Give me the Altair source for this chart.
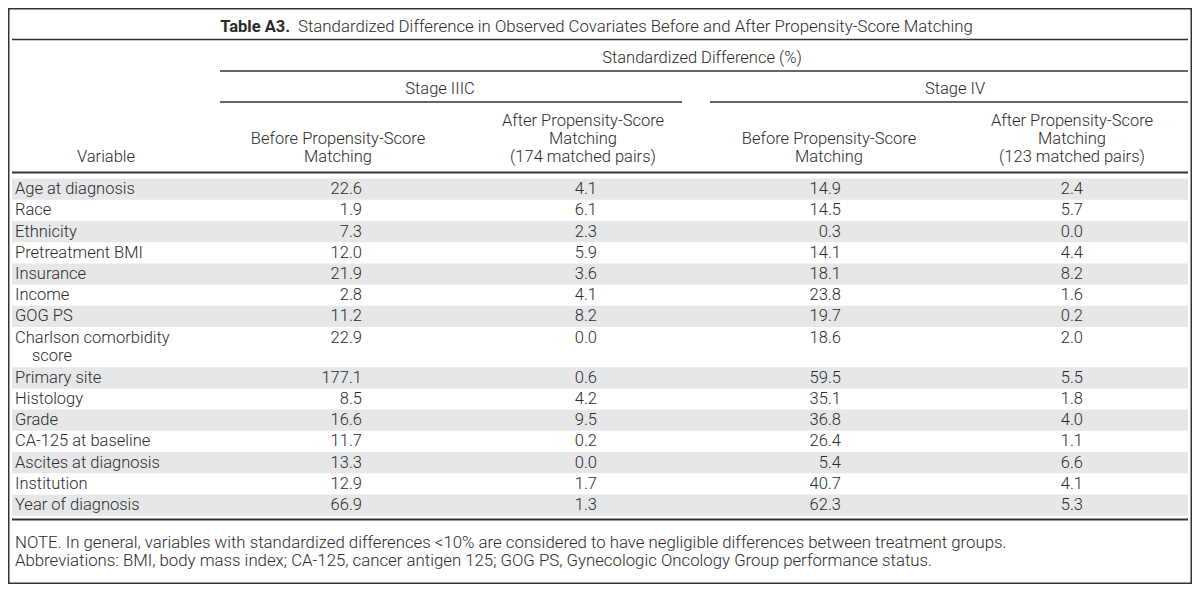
import altair as alt
import pandas as pd

# ---------------- data ----------------
variables = ["Age at diagnosis", "Race", "Ethnicity", "Pretreatment BMI", "Insurance",
             "Income", "GOG PS", "Charlson comorbidity|score", "Primary site", "Histology",
             "Grade", "CA-125 at baseline", "Ascites at diagnosis", "Institution",
             "Year of diagnosis"]
iiic_before = [22.6, 1.9, 7.3, 12.0, 21.9, 2.8, 11.2, 22.9, 177.1, 8.5, 16.6, 11.7, 13.3, 12.9, 66.9]
iiic_after = [4.1, 6.1, 2.3, 5.9, 3.6, 4.1, 8.2, 0.0, 0.6, 4.2, 9.5, 0.2, 0.0, 1.7, 1.3]
iv_before = [14.9, 14.5, 0.3, 14.1, 18.1, 23.8, 19.7, 18.6, 59.5, 35.1, 36.8, 26.4, 5.4, 40.7, 62.3]
iv_after = [2.4, 5.7, 0.0, 4.4, 8.2, 1.6, 0.2, 2.0, 5.5, 1.8, 4.0, 1.1, 6.6, 4.1, 5.3]

title_bold = "Table A3."
title_text = "Standardized Difference in Observed Covariates Before and After Propensity-Score Matching"
span_top = "Standardized Difference (%)"
stages = ["Stage IIIC", "Stage IV"]
col_headers = [["Variable"],
               ["Before Propensity-Score", "Matching"],
               ["After Propensity-Score", "Matching", "(174 matched pairs)"],
               ["Before Propensity-Score", "Matching"],
               ["After Propensity-Score", "Matching", "(123 matched pairs)"]]
notes = ["NOTE. In general, variables with standardized differences <10% are considered to have negligible differences between treatment groups.",
         "Abbreviations: BMI, body mass index; CA-125, cancer antigen 125; GOG PS, Gynecologic Oncology Group performance status."]

# ---------------- layout (page pixel coordinates) ----------------
W, H = 1184, 576
OFF = 8
FONT = "Roboto"
TXT = "#2b2b2b"
FS = 16.5
LEFT, RIGHT = 12, 1188
TXT_LEFT = 15
col_right = [362, 597, 841, 1083]
head_center = [106, 338, 583, 829, 1072]
row_top = 178.6
row_h = 21.2
line_gap = 18

xs = alt.Scale(domain=[OFF, OFF + W])
ys = alt.Scale(domain=[OFF + H, OFF])

bands, left_txt, right_txt, center_txt = [], [], [], []
y = row_top
for i, v in enumerate(variables):
    parts = v.split("|")
    h = row_h + line_gap * (len(parts) - 1) + (1 if len(parts) > 1 else 0)
    if i % 2 == 0:
        bands.append({"x": LEFT, "x2": RIGHT, "y": y, "y2": y + h})
    cy = y + row_h / 2
    for k, p in enumerate(parts):
        left_txt.append({"x": TXT_LEFT + (17 if k else 0), "y": cy + k * line_gap, "t": p, "s": FS})
    for c, vals in enumerate([iiic_before, iiic_after, iv_before, iv_after]):
        right_txt.append({"x": col_right[c], "y": cy, "t": f"{vals[i]:.1f}", "s": FS})
    y += h
table_bottom = y

# headers
hdr_base = 157
for c, lines in enumerate(col_headers):
    n = len(lines)
    for k, ln in enumerate(lines):
        center_txt.append({"x": head_center[c], "y": hdr_base - (n - 1 - k) * line_gap, "t": ln, "s": FS})
center_txt.append({"x": 702, "y": 58, "t": span_top, "s": FS})
center_txt.append({"x": 440, "y": 89, "t": stages[0], "s": FS})
center_txt.append({"x": 955, "y": 89, "t": stages[1], "s": FS})

# notes
for k, n in enumerate(notes):
    left_txt.append({"x": TXT_LEFT, "y": 543 + k * 18, "t": n, "s": 16.8})

rules = [
    {"x": LEFT, "x2": RIGHT, "y": 39.5, "w": 1.6},
    {"x": 220, "x2": RIGHT, "y": 71, "w": 1.4},
    {"x": 220, "x2": 682, "y": 102, "w": 1.4},
    {"x": 710, "x2": RIGHT, "y": 102, "w": 1.4},
    {"x": LEFT, "x2": RIGHT, "y": 172.5, "w": 2},
    {"x": LEFT, "x2": RIGHT, "y": table_bottom + 4, "w": 2},
]

band_layer = alt.Chart(pd.DataFrame(bands)).mark_rect(color="#e6e7e8").encode(
    x=alt.X("x:Q", scale=xs, axis=None), x2="x2:Q",
    y=alt.Y("y:Q", scale=ys, axis=None), y2="y2:Q")

rule_layer = alt.Chart(pd.DataFrame(rules)).mark_rule(color="#333333").encode(
    x=alt.X("x:Q", scale=xs, axis=None), x2="x2:Q",
    y=alt.Y("y:Q", scale=ys, axis=None),
    strokeWidth=alt.StrokeWidth("w:Q", scale=None, legend=None))

def text_layer(rows, align, weight=300):
    return alt.Chart(pd.DataFrame(rows)).mark_text(
        align=align, baseline="middle", font=FONT, fontWeight=weight, color=TXT).encode(
        x=alt.X("x:Q", scale=xs, axis=None),
        y=alt.Y("y:Q", scale=ys, axis=None),
        text="t:N",
        size=alt.Size("s:Q", scale=None, legend=None))

title_b = text_layer([{"x": 290, "y": 27, "t": title_bold, "s": 16.5}], "right", 700)
title_r = text_layer([{"x": 298, "y": 27, "t": title_text, "s": 16.8}], "left", 300)

chart = alt.layer(
    band_layer, rule_layer,
    text_layer(left_txt, "left"), text_layer(right_txt, "right"),
    text_layer(center_txt, "center"), title_b, title_r,
).properties(
    width=W, height=H, padding=0,
    autosize=alt.AutoSizeParams(type="fit", contains="padding"),
).configure_view(stroke="#333333", strokeWidth=3)

chart.save("out.html", embed_options={"renderer": "svg", "actions": False})
